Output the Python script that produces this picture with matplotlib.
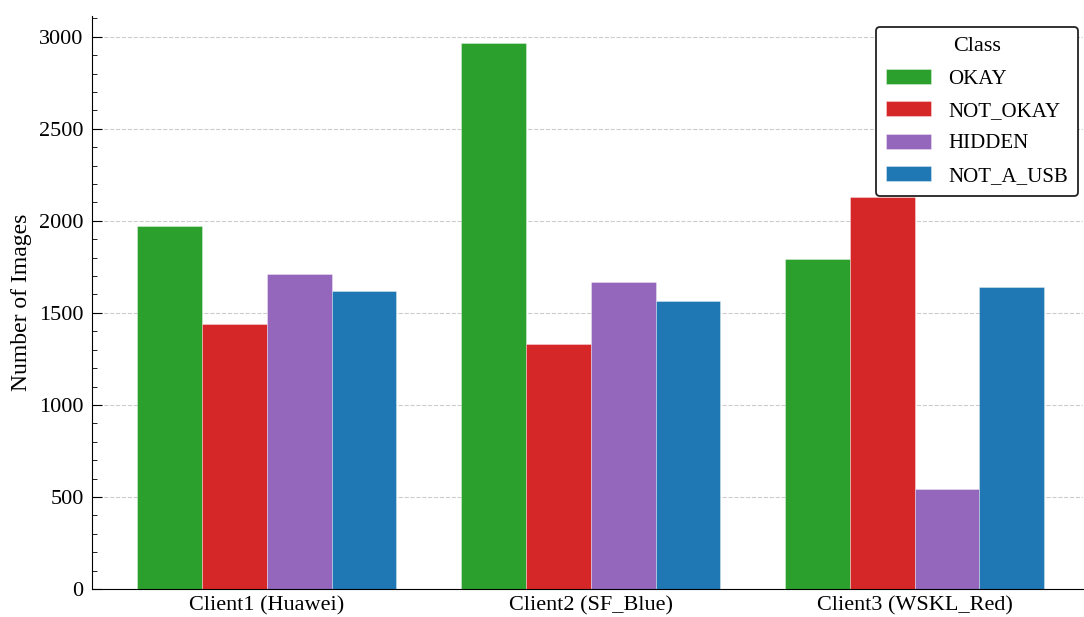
import numpy as np
import matplotlib
matplotlib.use('Agg')
import matplotlib.pyplot as plt
from matplotlib.ticker import MultipleLocator

plt.rcParams['font.family'] = ['Liberation Serif', 'DejaVu Serif']

# Data
clients = ['Client1 (Huawei)', 'Client2 (SF_Blue)', 'Client3 (WSKL_Red)']
classes = ['OKAY', 'NOT_OKAY', 'HIDDEN', 'NOT_A_USB']
okay = [1973, 2964, 1794]
not_okay = [1440, 1332, 2130]
hidden = [1712, 1668, 543]
not_a_usb = [1621, 1565, 1642]
colors = ['#2ca02c', '#d62728', '#9467bd', '#1f77b4']

series = [okay, not_okay, hidden, not_a_usb]

fig = plt.figure(figsize=(10.84, 6.17), dpi=100)
ax = fig.add_axes([92 / 1084, 28 / 617, 991 / 1084, 573 / 617])

x = np.arange(len(clients))
width = 0.2
for i, (name, vals) in enumerate(zip(classes, series)):
    ax.bar(x + (i - 1.5) * width, vals, width, label=name, color=colors[i],
           edgecolor=(1, 1, 1, 0.4), linewidth=0.6, zorder=2)

ax.set_xlim(-0.54, 2.52)
ax.set_ylim(0, 3113)
ax.set_xticks(x)
ax.set_xticklabels(clients, fontsize=16)
ax.tick_params(axis='x', length=0, pad=5)
ax.yaxis.set_major_locator(MultipleLocator(500))
ax.yaxis.set_minor_locator(MultipleLocator(100))
ax.tick_params(axis='y', which='major', direction='in', length=7, width=0.8,
               labelsize=16, pad=6)
ax.tick_params(axis='y', which='minor', direction='in', length=3.5, width=0.6)
ax.set_ylabel('Number of Images', fontsize=17, labelpad=5)

ax.grid(axis='y', which='major', linestyle='--', color='#cccccc', linewidth=0.8, zorder=0)
ax.set_axisbelow(True)
for side in ['top', 'right']:
    ax.spines[side].set_visible(False)

leg = ax.legend(title='Class', loc='upper right', fontsize=15, title_fontsize=16,
                frameon=True, fancybox=True, edgecolor='#222222', framealpha=1,
                handlelength=2.15, handleheight=0.75, borderpad=0.5,
                labelspacing=0.6, borderaxespad=0, bbox_to_anchor=(0.995, 0.981))
leg.get_frame().set_linewidth(1.3)

plt.savefig('out.png', dpi=100)
plt.close()
